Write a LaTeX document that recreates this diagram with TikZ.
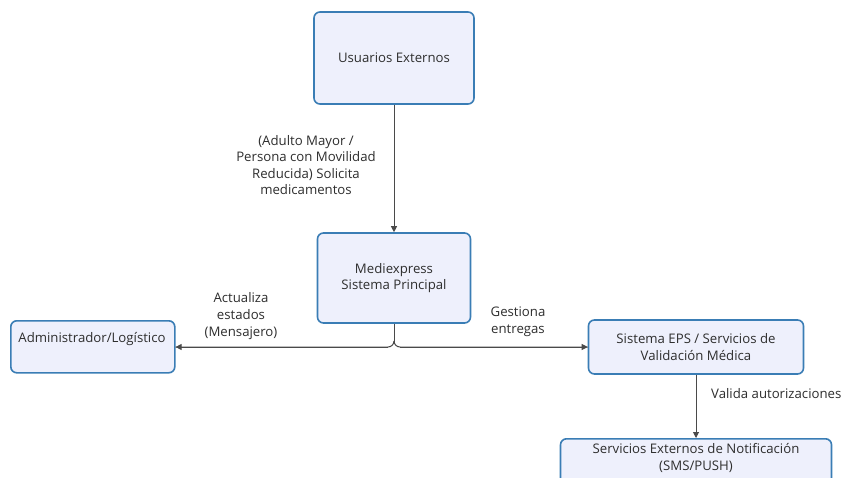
\documentclass[tikz,border=0pt]{standalone}
\usepackage{fontspec}
\setmainfont{Open Sans}
\usetikzlibrary{arrows.meta}
\definecolor{boxfill}{HTML}{EEF0FC}
\definecolor{boxline}{HTML}{3A7DB5}
\definecolor{txt}{HTML}{2E2E2E}
\definecolor{conn}{HTML}{4A4A4A}
\tikzset{
  box/.style={draw=boxline, line width=1.6pt, fill=boxfill, rounded corners=6pt, text=txt,
    font=\fontsize{13.2}{16.6}\selectfont, align=center, inner sep=0pt},
  lbl/.style={text=txt, font=\fontsize{13.2}{16.6}\selectfont, align=center, inner sep=0pt},
  conn/.style={draw=conn, line width=1pt},
  arr/.style={conn, -{Triangle[length=6pt,width=6pt]}}
}
\begin{document}
\begin{tikzpicture}[x=1pt,y=-1pt]
\useasboundingbox (0,0) rectangle (845,478);
\clip (0,0) rectangle (845,478);
\fill[white] (0,0) rectangle (845,478);
\node[box, minimum width=160pt, minimum height=92pt] (usr) at (394,58) {Usuarios Externos};
\node[box, minimum width=153pt, minimum height=90pt] (med) at (394,278) {Mediexpress\\Sistema Principal};
\node[box, minimum width=164pt, minimum height=52pt, anchor=north west] (adm) at (10,320) {};
\node[lbl, anchor=center] (admt) at (92,339) {Administrador/Logístico};
\node[box, minimum width=215pt, minimum height=54pt] (eps) at (696,347) {Sistema EPS / Servicios de\\Validación Médica};
\node[box, minimum width=271pt, minimum height=60pt, anchor=north] (not) at (696,438) {};
\node[lbl] (nott) at (696,458) {Servicios Externos de Notificación\\(SMS/PUSH)};

\draw[arr] (usr.south) -- (med.north);
\node[lbl] (l1) at (306,165) {(Adulto Mayor /\\Persona con Movilidad\\Reducida) Solicita\\medicamentos};

\coordinate (j) at (394,347);
\draw[conn] (med.south) -- ++(0,18);
\draw[conn] (394,341) arc[start angle=0, end angle=90, radius=6] -- (adm.east |- j);
\draw[conn] (394,341) arc[start angle=180, end angle=90, radius=6] -- (eps.west |- j);
\draw[arr] (400,347) -- (eps.west);
\draw[arr] (388,347) -- (adm.east |- j);

\node[lbl] (l2) at (241,316) {Actualiza\\estados\\(Mensajero)};
\node[lbl] (l3) at (518,322) {Gestiona\\entregas};

\draw[arr] (eps.south) -- (not.north);
\node[lbl, anchor=west] (l4) at (711,394) {Valida autorizaciones};
\end{tikzpicture}
\end{document}
